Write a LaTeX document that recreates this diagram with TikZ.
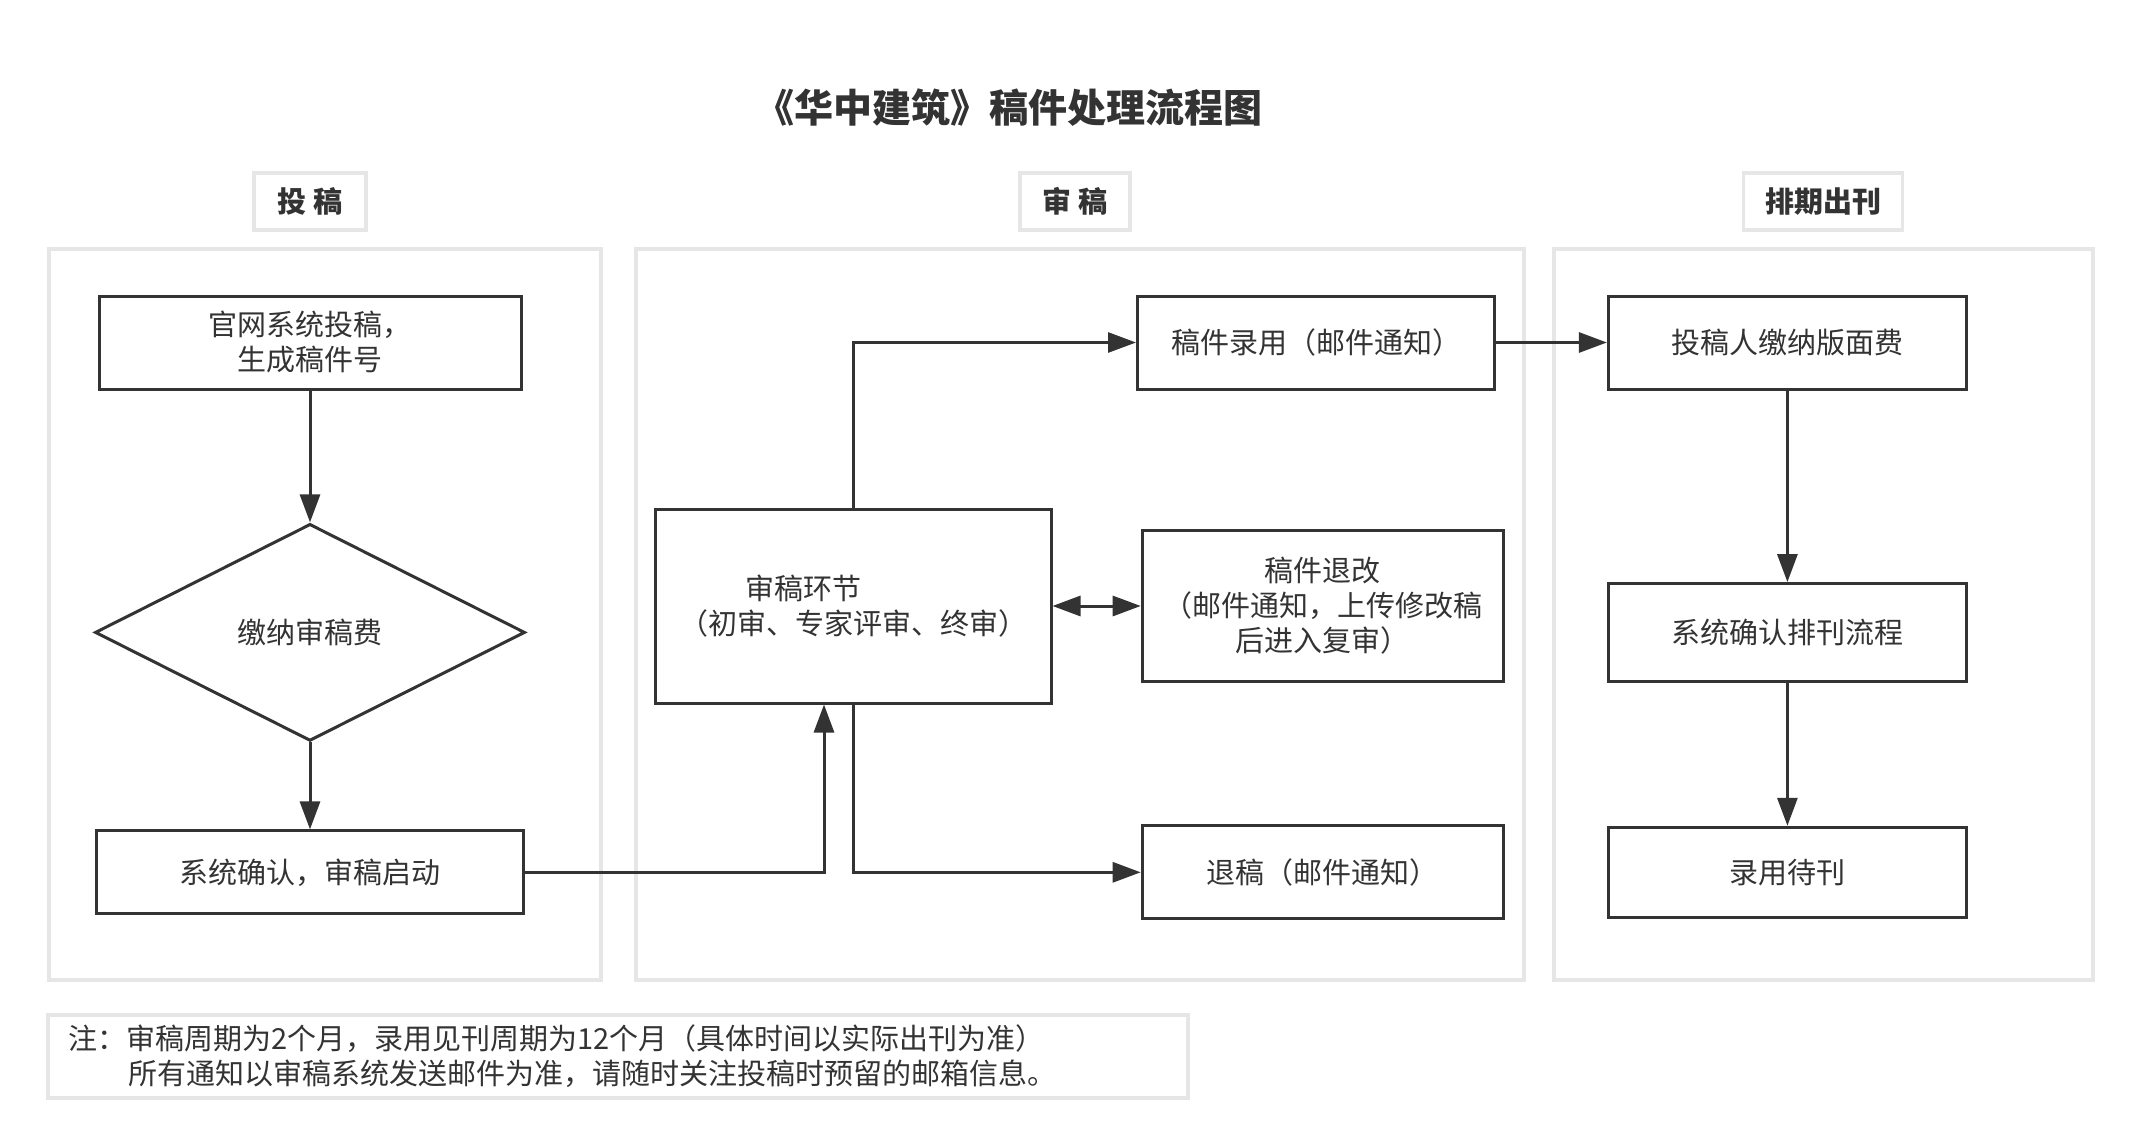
\documentclass[tikz,border=0pt]{standalone}
\usepackage{fontspec}
\setmainfont{Noto Sans CJK SC}
\usetikzlibrary{shapes.geometric, arrows.meta, calc}

\definecolor{ink}{HTML}{333333}
\definecolor{frame}{HTML}{E6E6E6}

\begin{document}
\begin{tikzpicture}[
    x=1pt, y=-1pt,
    >={Triangle[length=28pt, width=20pt]},
    every node/.style={font=\fontsize{29}{35}\selectfont, text=ink},
    lane/.style={draw=frame, line width=3.5pt, inner sep=0pt},
    lanehead/.style={draw=frame, line width=3.5pt, minimum height=57pt,
        font=\fontsize{29}{35}\selectfont\bfseries},
    box/.style={draw=ink, line width=3pt, align=center, inner sep=0pt, minimum height=93pt},
    decision/.style={draw=ink, diamond, line width=3pt, inner sep=0pt},
    flow/.style={->, draw=ink, line width=3pt}
]

    \useasboundingbox (0,0) rectangle (2140,1145);

    % Title
    \node[font=\fontsize{39}{47}\selectfont\bfseries] (title) at (1009,108) {《华中建筑》稿件处理流程图};

    % Three lanes with their headers
    \foreach \name/\x/\w/\hx/\hw/\label in {lane1/325/552/310/112/{投 稿}, lane2/1080/888/1075/110/{审 稿}, lane3/1823.5/539/1823/159/{排期出刊}} {
        \node[lane, minimum width=\w pt, minimum height=731pt] (\name) at (\x,614.5) {};
        \node[lanehead, minimum width=\hw pt] (\name-head) at (\hx,201.5) {\label};
    }

    % Submission
    \node[box, minimum width=422pt] (submit) at (310,342.5) {官网系统投稿，\\生成稿件号};
    \node[decision, minimum width=430pt, minimum height=217pt] (payfee) at (310,632.4) {缴纳审稿费};
    \node[box, minimum width=427pt, minimum height=83pt] (confirm) at (310,872.4) {系统确认，审稿启动};

    % Review
    \node[box, minimum width=396pt, minimum height=194pt] (review) at (853,606) {审稿环节\hspace*{3.4em}\\（初审、专家评审、终审）};
    \node[box, minimum width=357pt] (accept) at (1316,342.5) {稿件录用（邮件通知）};
    \node[box, minimum width=361pt, minimum height=151pt] (revise) at (1322.7,606) {稿件退改\\（邮件通知，上传修改稿\\后进入复审）};
    \node[box, minimum width=361pt] (reject) at (1322.7,872.3) {退稿（邮件通知）};

    % Publishing
    \node[box, minimum width=358pt] (fee) at (1787.4,342.5) {投稿人缴纳版面费};
    \node[box, minimum width=358pt, minimum height=98pt] (schedule) at (1787.4,632.6) {系统确认排刊流程};
    \node[box, minimum width=358pt, minimum height=90pt] (waiting) at (1787.4,872.3) {录用待刊};

    % Note
    \node[lane, minimum width=1140pt, minimum height=83pt, text width=1100pt, align=left] (note) at (618,1056.5)
        {注：审稿周期为2个月，录用见刊周期为12个月（具体时间以实际出刊为准）\\\hspace*{2.1em}所有通知以审稿系统发送邮件为准，请随时关注投稿时预留的邮箱信息。};

    % Connections
    \draw[flow] (submit) -- (payfee);
    \draw[flow] (payfee) -- (confirm);
    \draw[flow] (confirm.east) -| ($(review.south)+(-29,0)$);
    \draw[flow] (review.north) |- (accept.west);
    \draw[flow] (review.south) |- (reject.west);
    \draw[flow, <->] (review) -- (revise);
    \draw[flow] (accept) -- (fee);
    \draw[flow] (fee) -- (schedule);
    \draw[flow] (schedule) -- (waiting);

\end{tikzpicture}
\end{document}
